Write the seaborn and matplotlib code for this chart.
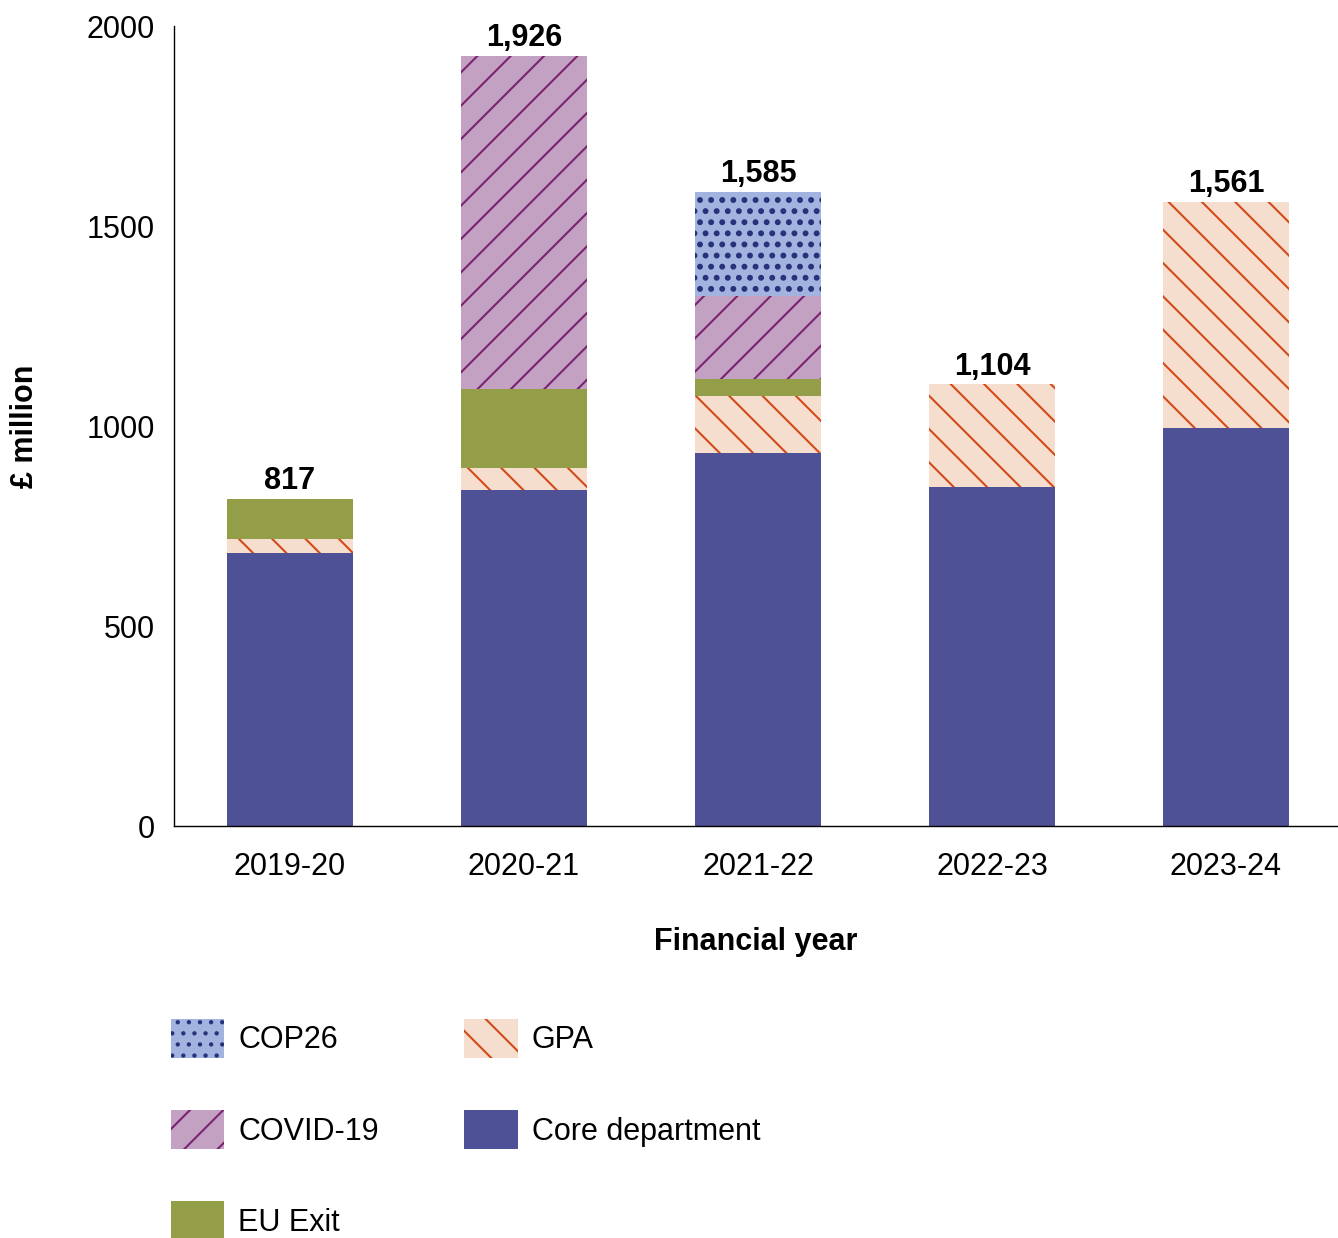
import matplotlib
matplotlib.use("Agg")
import matplotlib.pyplot as plt
import matplotlib.patches as mpatches
import numpy as np
import pandas as pd
import seaborn as sns

# Spending by financial year, £ million
years = ["2019-20", "2020-21", "2021-22", "2022-23", "2023-24"]
core_department = [682, 840, 932, 847, 995]
gpa = [35, 55, 143, 257, 566]
eu_exit = [100, 197, 42, 0, 0]
covid_19 = [0, 834, 209, 0, 0]
cop26 = [0, 0, 259, 0, 0]
totals = [817, 1926, 1585, 1104, 1561]

sns.set_theme(style="white")
plt.rcParams["font.family"] = ["Liberation Sans", "DejaVu Sans"]
plt.rcParams["text.color"] = "black"
plt.rcParams["hatch.linewidth"] = 0.75

FS = 11

# Stacking order (bottom to top): fill, hatch, hatch colour, hatch line width
series = [
    ("Core department", core_department, "#4F5196", "", "#4F5196", 0.75),
    ("GPA", gpa, "#F6DECF", "\\\\", "#D24A1A", 0.75),
    ("EU Exit", eu_exit, "#949D48", "", "#949D48", 0.75),
    ("COVID-19", covid_19, "#C2A1C2", "//", "#7A2370", 0.75),
    ("COP26", cop26, "#A2B3E0", "...", "#26317A", 1.3),
]

fig = plt.figure(figsize=(1338 / 200, 1238 / 200), dpi=200)
ax = fig.add_axes([174 / 1338, 1 - 826 / 1238, 1 - 174 / 1338, 800 / 1238])

bottom = np.zeros(len(years))
for name, vals, face, hatch, hcol, hlw in series:
    df = pd.DataFrame({"year": years, "value": vals})
    with plt.rc_context({"hatch.linewidth": hlw}):
        sns.barplot(data=df, x="year", y="value", order=years, bottom=bottom,
                    color=face, saturation=1, width=0.54, errorbar=None,
                    hatch=hatch, edgecolor=hcol, linewidth=0, ax=ax)
    bottom = bottom + np.array(vals)

for i, tot in enumerate(totals):
    ax.annotate(f"{tot:,}", xy=(i, tot), xytext=(0, 1), textcoords="offset points",
                ha="center", va="bottom", fontsize=FS, fontweight="bold", color="black")

ax.set_ylim(0, 2000)
ax.set_xlim(-0.496, 4.479)
ax.set_yticks([0, 500, 1000, 1500, 2000])
ax.tick_params(axis="both", length=0, labelsize=FS, colors="black")
ax.tick_params(axis="y", pad=6.8)
ax.tick_params(axis="x", pad=9.5)
ax.set_xlabel("Financial year", fontsize=FS, fontweight="bold", labelpad=16, color="black")
ax.set_ylabel("£ million", fontsize=FS, fontweight="bold", labelpad=17, color="black")

for side in ["top", "right"]:
    ax.spines[side].set_visible(False)
for side in ["left", "bottom"]:
    ax.spines[side].set_color("black")
    ax.spines[side].set_linewidth(0.5)

# Legend, filled column by column
styles = {name: (face, hatch, hcol, hlw) for name, _, face, hatch, hcol, hlw in series}
order = ["COP26", "COVID-19", "EU Exit", "GPA", "Core department"]
handles = []
for name in order:
    face, hatch, hcol, hlw = styles[name]
    with plt.rc_context({"hatch.linewidth": hlw}):
        handles.append(mpatches.Patch(facecolor=face, hatch=hatch, edgecolor=hcol,
                                      linewidth=0, label=name))
fig.legend(handles=handles, loc="upper left", bbox_to_anchor=(171 / 1338, 1 - 1019 / 1238),
           ncol=2, frameon=False, fontsize=FS, labelcolor="black",
           handlelength=1.74, handleheight=1.57,
           handletextpad=0.46, labelspacing=1.72, columnspacing=2.8,
           borderpad=0, borderaxespad=0)

fig.savefig("out.png", dpi=200)
